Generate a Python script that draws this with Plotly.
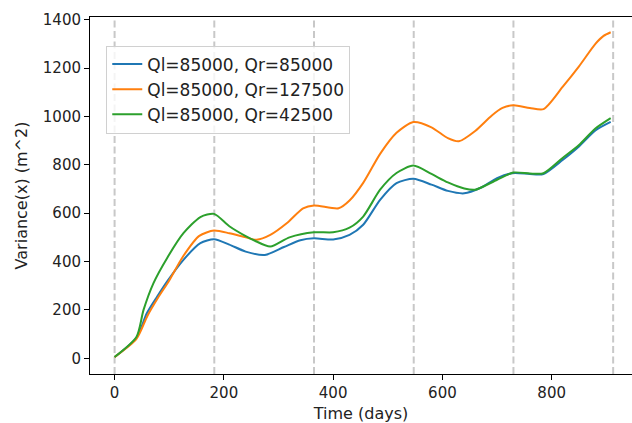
import plotly.graph_objects as go

# Time (days) / variance values
t_blue = [0, 40, 59, 78, 96, 126, 157, 182, 210, 240, 275, 310, 340, 365, 400, 430, 455, 486, 516, 547, 580, 610, 640, 670, 700, 730, 760, 785, 820, 850, 880, 908]
v_blue = [5, 85, 186, 255, 317, 407, 476, 492, 470, 441, 427, 460, 488, 496, 491, 510, 552, 655, 724, 742, 718, 692, 682, 705, 745, 766, 762, 762, 820, 876, 942, 977]

t_orange = [0, 40, 60, 80, 100, 125, 155, 182, 210, 240, 260, 285, 315, 345, 365, 410, 430, 455, 486, 516, 547, 580, 610, 630, 660, 690, 710, 730, 760, 785, 820, 850, 880, 895, 908]
v_orange = [5, 80, 175, 252, 322, 420, 506, 528, 517, 500, 490, 510, 558, 620, 632, 620, 652, 725, 845, 932, 977, 955, 910, 897, 940, 1003, 1035, 1046, 1035, 1030, 1122, 1207, 1300, 1333, 1348]

t_green = [0, 40, 53, 71, 96, 126, 157, 182, 210, 240, 255, 285, 320, 365, 400, 430, 455, 486, 516, 547, 580, 610, 640, 660, 700, 730, 760, 785, 820, 850, 880, 908]
v_green = [5, 88, 200, 310, 414, 517, 584, 597, 546, 505, 488, 462, 500, 521, 521, 540, 586, 697, 766, 797, 762, 727, 702, 697, 738, 768, 764, 765, 828, 882, 950, 993]

labels = ["Ql=85000, Qr=85000", "Ql=85000, Qr=127500", "Ql=85000, Qr=42500"]
colors = ["#1f77b4", "#ff7f0e", "#2ca02c"]

# half-year markers
vlines = [0, 182.5, 365, 547.5, 730, 912.5]

x_ticks = [0, 200, 400, 600, 800]
y_ticks = [0, 200, 400, 600, 800, 1000, 1200, 1400]

font = "DejaVu Sans, sans-serif"

fig = go.Figure()

y_lo, y_hi = -65, 1411
for xv in vlines:
    fig.add_trace(go.Scatter(
        x=[xv, xv], y=[y_lo, y_hi], mode="lines",
        line=dict(color="#c8c8c8", width=2, dash="7px,3.5px"),
        showlegend=False, hoverinfo="skip"))

for t, v, lab, c in zip([t_blue, t_orange, t_green], [v_blue, v_orange, v_green], labels, colors):
    fig.add_trace(go.Scatter(
        x=t, y=v, mode="lines", name=lab,
        line=dict(color=c, width=2, shape="spline", smoothing=0.7)))

fig.update_layout(
    width=632, height=423,
    margin=dict(l=90, r=0, t=17, b=49),
    paper_bgcolor="white", plot_bgcolor="white",
    font=dict(family=font, size=15, color="#222222"),
    showlegend=True,
    legend=dict(
        x=0.03, y=0.92, xanchor="left", yanchor="top",
        bgcolor="rgba(255,255,255,0.8)", bordercolor="#d0d0d0", borderwidth=1,
        font=dict(size=17, family=font, color="#222222"),
        itemwidth=30, tracegroupgap=0,
    ),
)

fig.update_xaxes(
    range=[-45, 947], tickvals=x_ticks, ticktext=[str(v) for v in x_ticks],
    showgrid=False, zeroline=False, showline=True, linecolor="black", linewidth=1,
    mirror=True, ticks="outside", ticklen=5, tickwidth=1, tickcolor="black",
    tickfont=dict(size=15), title=dict(text="Time (days)", font=dict(size=16), standoff=6),
)
fig.update_yaxes(
    range=[y_lo, y_hi], tickvals=y_ticks, ticktext=[str(v) for v in y_ticks],
    showgrid=False, zeroline=False, showline=True, linecolor="black", linewidth=1,
    mirror=False, ticks="outside", ticklen=5, tickwidth=1, tickcolor="black",
    tickfont=dict(size=15), title=dict(text="Variance(x) (m^2)", font=dict(size=16), standoff=11),
)

fig.write_html("out.html")
